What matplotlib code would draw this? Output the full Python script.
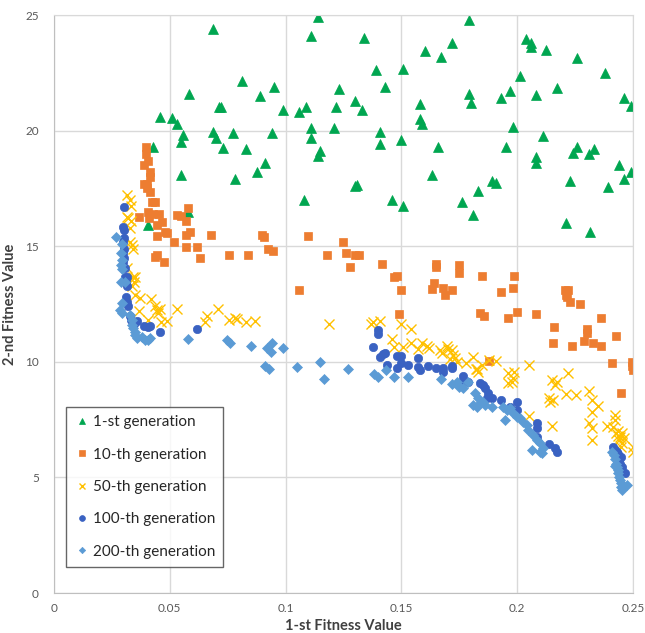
import matplotlib
matplotlib.use("Agg")
import matplotlib.pyplot as plt

plt.rcParams['font.family'] = ['Lato', 'DejaVu Sans']

# ---------------- data ----------------
gen1_x = [0.0687, 0.114, 0.111, 0.0458, 0.0509, 0.0531, 0.0583, 0.0428, 0.0557, 0.0548, 0.0548,
          0.0687, 0.0699, 0.0712, 0.0721, 0.073, 0.0773, 0.078, 0.0812, 0.0829, 0.089, 0.0877,
          0.0911, 0.094, 0.095, 0.0989, 0.106, 0.109, 0.111, 0.111, 0.114, 0.115, 0.108, 0.0406,
          0.058, 0.1339, 0.179, 0.172, 0.160, 0.167, 0.139, 0.1507, 0.143, 0.123, 0.130, 0.133,
          0.1218, 0.121, 0.1408, 0.1408, 0.150, 0.158, 0.158, 0.159, 0.166, 0.163, 0.130, 0.131,
          0.146, 0.1507, 0.179, 0.180, 0.183, 0.176, 0.181, 0.189, 0.191, 0.193, 0.197, 0.195,
          0.198, 0.201, 0.204, 0.206, 0.206, 0.2125, 0.208, 0.211, 0.208, 0.208, 0.217, 0.226,
          0.238, 0.224, 0.226, 0.231, 0.233, 0.223, 0.239, 0.244, 0.246, 0.249, 0.246, 0.249,
          0.221, 0.2315]
gen1_y = [24.4, 24.9, 24.1, 20.6, 20.55, 20.3, 21.6, 19.3, 19.8, 19.5, 18.1,
          19.95, 19.7, 21.0, 21.0, 19.25, 19.9, 17.9, 22.15, 19.2, 21.5, 18.2,
          18.6, 19.9, 21.9, 20.9, 20.8, 21.0, 20.1, 19.7, 18.9, 19.1, 17.0, 15.9,
          16.5, 24.0, 24.8, 23.8, 23.45, 23.2, 22.6, 22.65, 21.9, 21.8, 21.3, 20.9,
          21.0, 20.1, 19.95, 19.4, 19.6, 21.15, 20.5, 20.3, 19.3, 18.1, 17.6, 17.65,
          17.0, 16.75, 21.6, 21.2, 17.4, 16.9, 16.35, 17.8, 17.75, 21.4, 21.7, 19.3,
          20.15, 22.35, 23.95, 23.8, 23.6, 23.5, 21.55, 19.75, 18.85, 18.6, 21.85, 23.15,
          22.5, 19.05, 19.3, 19.0, 19.2, 17.8, 17.55, 18.5, 17.9, 18.2, 21.4, 21.05,
          16.0, 15.6]

gen10_x = [0.0397, 0.0397, 0.0389, 0.0406, 0.0415, 0.0415, 0.039, 0.040, 0.040, 0.0415,
           0.0423, 0.0436, 0.0406, 0.0428, 0.0453, 0.041, 0.0367, 0.0445, 0.0466, 0.0445,
           0.048, 0.0488, 0.0518, 0.0531, 0.0548, 0.057, 0.058, 0.057, 0.0587, 0.057, 0.0617,
           0.063, 0.0678, 0.0436, 0.0445, 0.0475, 0.0756, 0.0838, 0.0898, 0.0907, 0.0924,
           0.0946, 0.1058, 0.1097, 0.118, 0.1248, 0.126, 0.130, 0.1317, 0.1278, 0.1416,
           0.1468, 0.148, 0.150, 0.149, 0.165, 0.165, 0.164, 0.163, 0.168, 0.169, 0.172,
           0.175, 0.175, 0.185, 0.193, 0.198, 0.1986, 0.184, 0.1857, 0.196, 0.200, 0.208,
           0.2207, 0.222, 0.2212, 0.2215, 0.223, 0.227, 0.236, 0.216, 0.2155, 0.2237, 0.230,
           0.230, 0.229, 0.2327, 0.236, 0.2427, 0.241, 0.2496, 0.2496, 0.2498, 0.245, 0.188]
gen10_y = [19.3, 19.0, 18.5, 18.7, 18.2, 18.0, 17.7, 17.7, 17.5, 17.35,
           16.9, 16.9, 16.5, 16.4, 16.4, 16.2, 16.25, 15.9, 16.05, 15.45,
           15.6, 15.55, 15.2, 16.35, 16.3, 16.1, 16.65, 15.5, 15.6, 14.97, 14.97,
           14.5, 15.5, 14.55, 14.6, 14.3, 14.6, 14.6, 15.5, 15.4, 14.9,
           14.8, 13.1, 15.45, 14.6, 15.2, 14.7, 14.6, 14.6, 14.1, 14.25,
           13.65, 13.7, 13.1, 12.05, 14.25, 14.1, 13.4, 13.15, 13.2, 12.9, 13.1,
           14.2, 13.85, 13.7, 13.0, 13.2, 13.7, 12.1, 12.0, 11.9, 12.15, 12.05,
           13.1, 13.1, 12.9, 12.8, 12.6, 12.5, 11.9, 11.5, 10.8, 10.7, 11.4,
           11.25, 10.9, 10.8, 10.7, 11.1, 9.95, 10.0, 9.8, 9.65, 8.65, 10.05]

gen50_x = [0.0315, 0.0328, 0.0332, 0.0315, 0.0319, 0.0332, 0.0328, 0.0328, 0.0337, 0.0341,
           0.0315, 0.034, 0.0345, 0.0349, 0.0337, 0.035, 0.037, 0.0419, 0.0445, 0.0458,
           0.0448, 0.0436, 0.053, 0.0406, 0.046, 0.049, 0.0367, 0.066, 0.065, 0.0708,
           0.0756, 0.078, 0.079, 0.083, 0.0868, 0.1187, 0.137, 0.1377, 0.1408, 0.150,
           0.154, 0.146, 0.147, 0.1507, 0.154, 0.157, 0.159, 0.161, 0.162, 0.1667,
           0.1675, 0.1697, 0.170, 0.1718, 0.1723, 0.171, 0.173, 0.174, 0.178, 0.181,
           0.182, 0.183, 0.1826, 0.185, 0.191, 0.188, 0.196, 0.1986, 0.198, 0.196,
           0.1976, 0.205, 0.205, 0.215, 0.217, 0.2165, 0.222, 0.2137, 0.2155, 0.214,
           0.221, 0.2254, 0.215, 0.231, 0.2323, 0.2349, 0.2323, 0.231, 0.2323, 0.2323,
           0.2388, 0.2422, 0.2422, 0.2414, 0.2426, 0.2435, 0.2452, 0.244, 0.2452,
           0.2448, 0.2435, 0.2443, 0.246, 0.25, 0.25]
gen50_y = [17.2, 17.0, 16.75, 16.25, 16.2, 16.1, 15.8, 15.2, 15.05, 14.9,
           14.05, 13.65, 13.45, 13.65, 13.3, 12.9, 12.75, 12.7, 12.25, 12.3,
           12.1, 12.4, 12.3, 11.8, 11.7, 11.75, 12.2, 12.0, 11.7, 12.3,
           11.8, 11.9, 11.85, 11.7, 11.75, 11.65, 11.65, 11.7, 11.75, 11.65,
           11.4, 11.0, 10.65, 10.65, 10.8, 10.55, 10.8, 10.7, 10.6, 10.5,
           10.4, 10.7, 10.55, 10.5, 10.3, 10.1, 10.15, 10.0, 9.95, 10.2,
           9.7, 9.55, 9.7, 9.85, 10.05, 10.08, 9.5, 9.55, 9.3, 9.08,
           9.12, 9.86, 7.65, 9.2, 9.12, 9.0, 9.5, 8.43, 8.35, 8.26,
           8.6, 8.56, 7.22, 8.74, 8.35, 8.1, 7.83, 7.35, 7.14, 6.62,
           7.22, 7.7, 7.5, 7.2, 6.9, 6.8, 6.9, 6.6, 6.5,
           6.3, 7.0, 6.75, 6.7, 6.3, 6.1]

gen100_x = [0.0302, 0.0298, 0.0302, 0.0302, 0.0298, 0.0302, 0.0298, 0.0302, 0.0298, 0.0306,
            0.0306, 0.0315, 0.031, 0.0315, 0.031, 0.0315, 0.0319, 0.0328, 0.0332, 0.0345,
            0.0358, 0.039, 0.0406, 0.0415, 0.0458, 0.0617, 0.140, 0.140, 0.1377, 0.1408,
            0.142, 0.1429, 0.1438, 0.148, 0.1498, 0.148, 0.1498, 0.1528, 0.157, 0.157,
            0.158, 0.1615, 0.165, 0.168, 0.168, 0.172, 0.172, 0.1766, 0.1766, 0.1788,
            0.184, 0.1853, 0.186, 0.1874, 0.189, 0.187, 0.193, 0.197, 0.200, 0.200,
            0.2085, 0.2085, 0.2085, 0.2137, 0.2163, 0.217, 0.2414, 0.2422, 0.243, 0.2427,
            0.2435, 0.244, 0.2443, 0.2435, 0.2452, 0.2448, 0.2466, 0.2435, 0.2448]
gen100_y = [16.7, 15.83, 15.7, 15.35, 15.2, 14.9, 14.7, 14.5, 14.3, 14.05,
            13.65, 13.65, 13.45, 13.3, 12.8, 12.6, 12.4, 12.0, 11.8, 11.65,
            11.76, 11.55, 11.5, 11.55, 11.3, 11.4, 11.37, 11.2, 10.65, 10.2,
            10.34, 10.38, 9.86, 10.25, 10.25, 9.73, 9.95, 9.86, 10.16, 9.77,
            9.64, 9.82, 9.73, 9.73, 9.56, 9.82, 9.73, 9.39, 9.21, 9.12,
            9.08, 9.0, 8.87, 8.65, 8.43, 8.43, 8.35, 8.04, 8.26, 7.92,
            7.35, 7.14, 6.75, 6.45, 6.27, 6.1, 6.3, 6.2, 6.1, 5.95,
            5.85, 5.7, 5.6, 5.5, 5.45, 5.3, 5.2, 6.0, 5.9]

gen200_x = [0.0268, 0.0294, 0.029, 0.0294, 0.029, 0.0294, 0.029, 0.0306, 0.0294, 0.0285,
            0.0294, 0.0328, 0.0337, 0.0337, 0.0341, 0.035, 0.035, 0.0358, 0.038, 0.0393,
            0.0415, 0.0406, 0.0579, 0.0747, 0.076, 0.085, 0.092, 0.094, 0.0937, 0.0989,
            0.0911, 0.0928, 0.1049, 0.1148, 0.1166, 0.127, 0.138, 0.140, 0.1433, 0.1468,
            0.1528, 0.167, 0.172, 0.174, 0.175, 0.1766, 0.1788, 0.1818, 0.181, 0.1826,
            0.184, 0.1853, 0.186, 0.189, 0.183, 0.1939, 0.1956, 0.1969, 0.1947, 0.1982,
            0.200, 0.2012, 0.2025, 0.2042, 0.2047, 0.2064, 0.2068, 0.2085, 0.2098, 0.2098,
            0.2107, 0.2111, 0.241, 0.2418, 0.2422, 0.2426, 0.243, 0.2435, 0.2435, 0.244,
            0.2443, 0.2448, 0.245, 0.2452, 0.2475, 0.2422]
gen200_y = [15.4, 15.1, 14.7, 14.4, 14.2, 14.0, 13.45, 13.45, 12.55, 12.25,
            12.1, 12.02, 11.8, 11.6, 11.46, 11.29, 11.16, 11.03, 11.07, 10.94,
            11.03, 10.94, 10.99, 10.94, 10.8, 10.68, 10.6, 10.8, 10.42, 10.6,
            9.82, 9.69, 9.77, 10.0, 9.25, 9.69, 9.47, 9.34, 9.65, 9.34,
            9.34, 9.25, 9.04, 9.13, 8.9, 8.86, 9.13, 8.65, 8.13, 8.04,
            8.22, 8.26, 8.13, 8.04, 8.43, 8.04, 7.92, 8.0, 7.48, 7.79,
            7.61, 7.57, 7.39, 7.27, 7.05, 6.19, 6.84, 6.62, 6.49, 6.1,
            6.06, 6.27, 6.1, 5.95, 5.8, 5.6, 5.45, 5.3, 5.19, 5.0,
            4.89, 4.75, 4.58, 4.45, 4.67, 5.5]

labels = ["1-st generation", "10-th generation", "50-th generation",
          "100-th generation", "200-th generation"]
x_ticks = [0, 0.05, 0.1, 0.15, 0.2, 0.25]
x_ticklabels = ["0", "0.05", "0.1", "0.15", "0.2", "0.25"]
y_ticks = [0, 5, 10, 15, 20, 25]

# ---------------- plot ----------------
fig = plt.figure(figsize=(6.45, 6.33), dpi=100)
ax = fig.add_axes([54/645, 40/633, 579/645, 578/633])

ax.plot(gen1_x, gen1_y, linestyle='none', marker='^', markersize=7,
        color='#00A650', markeredgewidth=0.5, markeredgecolor='#00A650', label=labels[0])
ax.plot(gen10_x, gen10_y, linestyle='none', marker='s', markersize=5.8,
        color='#ED7D31', markeredgewidth=0.5, markeredgecolor='#ED7D31', label=labels[1])
ax.plot(gen50_x, gen50_y, linestyle='none', marker='x', markersize=6.5,
        color='#FFC000', markeredgewidth=1.0, label=labels[2])
ax.plot(gen100_x, gen100_y, linestyle='none', marker='o', markersize=6,
        color='#3A62C2', markeredgewidth=0.5, markeredgecolor='#3A62C2', label=labels[3])
ax.plot(gen200_x, gen200_y, linestyle='none', marker='D', markersize=4.6,
        color='#5B9BD5', markeredgewidth=0.5, markeredgecolor='#5B9BD5', label=labels[4])

ax.set_xlim(0, 0.25)
ax.set_ylim(0, 25)
ax.set_xticks(x_ticks)
ax.set_xticklabels(x_ticklabels)
ax.set_yticks(y_ticks)
ax.tick_params(axis='both', length=0, labelsize=8.5, labelcolor='#595959')
ax.tick_params(axis='x', pad=7)
ax.tick_params(axis='y', pad=11)
ax.grid(True, color='#D9D9D9', linewidth=1.0)
ax.set_axisbelow(True)
for s in ['top', 'right']:
    ax.spines[s].set_color('#D9D9D9')
for s in ['left', 'bottom']:
    ax.spines[s].set_color('#BFBFBF')

ax.set_xlabel("1-st Fitness Value", fontsize=10.5, fontweight='bold', color='#404040', labelpad=4)
ax.set_ylabel("2-nd Fitness Value", fontsize=10.5, fontweight='bold', color='#404040', labelpad=6)

leg = ax.legend(loc='lower left', bbox_to_anchor=(0.0207, 0.045), borderaxespad=0,
                fontsize=11, frameon=True, fancybox=False, edgecolor='#404040',
                labelspacing=1.2, handlelength=1.0, handletextpad=0.2,
                borderpad=0.55, markerscale=0.7)
leg.get_frame().set_linewidth(1.0)
for t in leg.get_texts():
    t.set_color('#262626')

fig.savefig("out.png", dpi=100)
